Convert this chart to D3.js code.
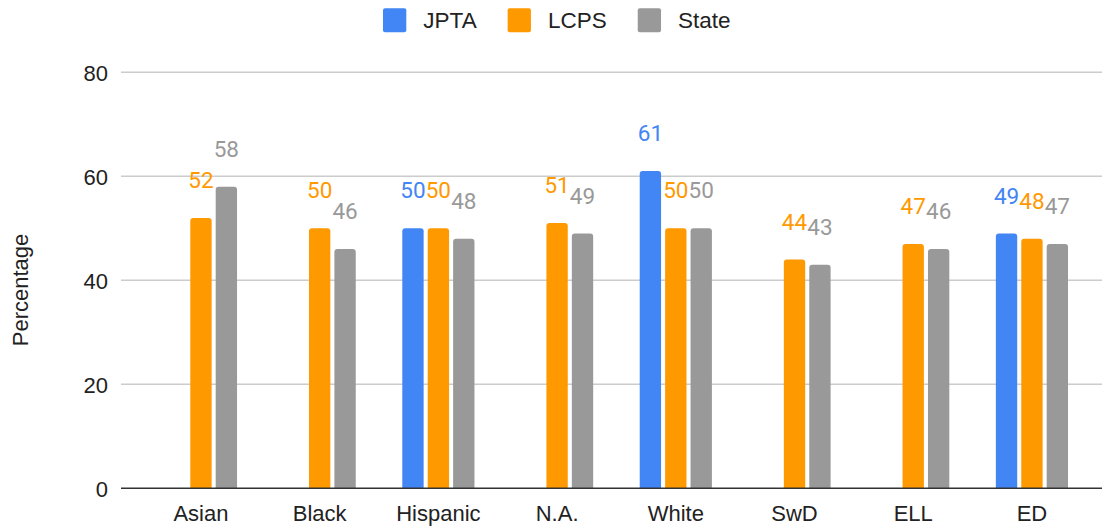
<!DOCTYPE html>
<html>
<head>
<meta charset="utf-8">
<script src="https://cdn.jsdelivr.net/npm/d3@7"></script>
<style>
  html, body { margin: 0; padding: 0; background: #fff; }
  svg { display: block; }
</style>
</head>
<body>
<svg id="chart" width="1102" height="529"></svg>
<script>
const categories = ["Asian", "Black", "Hispanic", "N.A.", "White", "SwD", "ELL", "ED"];
const seriesNames = ["JPTA", "LCPS", "State"];
const jptaValues  = [null, null, 50, null, 61, null, null, 49];
const lcpsValues  = [52, 50, 50, 51, 50, 44, 47, 48];
const stateValues = [58, 46, 48, 49, 50, 43, 46, 47];
const seriesColors = ["#4285F4", "#FF9900", "#999999"];
const yTicks = [0, 20, 40, 60, 80];
const yTitle = "Percentage";

const seriesValues = [jptaValues, lcpsValues, stateValues];

const svg = d3.select("#chart");
const W = 1102;

const y = d3.scaleLinear().domain([0, 80]).range([488.3, 72.3]);
const x0 = d3.scaleBand().domain(categories).range([141.6, 1091.3])
  .paddingInner(0.392).paddingOuter(0.196);
const x1 = d3.scaleBand().domain(seriesNames).range([0, x0.bandwidth()]).paddingInner(0.16);

const axisFont = "'Liberation Sans', Arial, sans-serif";
const labelFont = "Roboto, 'Liberation Sans', sans-serif";

// y tick labels
const yAxis = d3.axisLeft(y).tickValues(yTicks).tickSize(0).tickPadding(0);
const gAxis = svg.append("g").attr("transform", "translate(108,0)").call(yAxis);
gAxis.select(".domain").remove();
gAxis.selectAll("text")
  .attr("font-family", axisFont).attr("font-size", 22).attr("fill", "#222")
  .attr("x", 0).attr("dy", "0.35em");

// gridlines
svg.append("g").selectAll("line").data(yTicks.filter(t => t !== 0)).join("line")
  .attr("x1", 121).attr("x2", W)
  .attr("y1", d => y(d)).attr("y2", d => y(d))
  .attr("stroke", "#cccccc").attr("stroke-width", 1.4);

// bars
function roundedTopPath(x, yTop, w, h, r) {
  r = Math.min(r, h, w / 2);
  return `M${x},${yTop + h}V${yTop + r}Q${x},${yTop} ${x + r},${yTop}H${x + w - r}Q${x + w},${yTop} ${x + w},${yTop + r}V${yTop + h}Z`;
}

const flat = [];
categories.forEach((c, i) => {
  seriesNames.forEach((s, j) => {
    const v = seriesValues[j][i];
    if (v !== null && v !== undefined) flat.push({ c, s, v, j });
  });
});

svg.append("g").selectAll("path").data(flat).join("path")
  .attr("d", d => {
    const bx = x0(d.c) + x1(d.s);
    return roundedTopPath(bx, y(d.v), x1.bandwidth(), y(0) - y(d.v), 3);
  })
  .attr("fill", d => seriesColors[d.j]);

// baseline
svg.append("line")
  .attr("x1", 121).attr("x2", W)
  .attr("y1", y(0)).attr("y2", y(0))
  .attr("stroke", "#333").attr("stroke-width", 1.5);

// value labels
svg.append("g").selectAll("text").data(flat).join("text")
  .attr("x", d => x0(d.c) + x1(d.s) + x1.bandwidth() / 2)
  .attr("y", d => y(d.v) - 30)
  .attr("text-anchor", "middle")
  .attr("font-family", labelFont).attr("font-size", 22.5)
  .attr("fill", d => seriesColors[d.j])
  .text(d => d.v);

// category labels
const xAxis = d3.axisBottom(x0).tickSize(0).tickPadding(0);
const gx = svg.append("g").call(xAxis);
gx.select(".domain").remove();
gx.selectAll("text")
  .attr("font-family", axisFont).attr("font-size", 22).attr("fill", "#222")
  .attr("y", 521).attr("dy", 0);

// y title
svg.append("text")
  .attr("transform", "translate(28,290) rotate(-90)")
  .attr("text-anchor", "middle")
  .attr("font-family", axisFont).attr("font-size", 22).attr("fill", "#222")
  .text(yTitle);

// legend
const legend = svg.append("g");
let lx = 383;
seriesNames.forEach((s, j) => {
  legend.append("rect")
    .attr("x", lx).attr("y", 8.3).attr("width", 23.3).attr("height", 24)
    .attr("rx", 2).attr("fill", seriesColors[j]);
  const t = legend.append("text")
    .attr("x", lx + 23.3 + 17).attr("y", 28.3)
    .attr("font-family", axisFont).attr("font-size", 22.5).attr("fill", "#222")
    .text(s);
  const tw = t.node().getComputedTextLength();
  lx = lx + 23.3 + 17 + tw + 31;
});
</script>
</body>
</html>
